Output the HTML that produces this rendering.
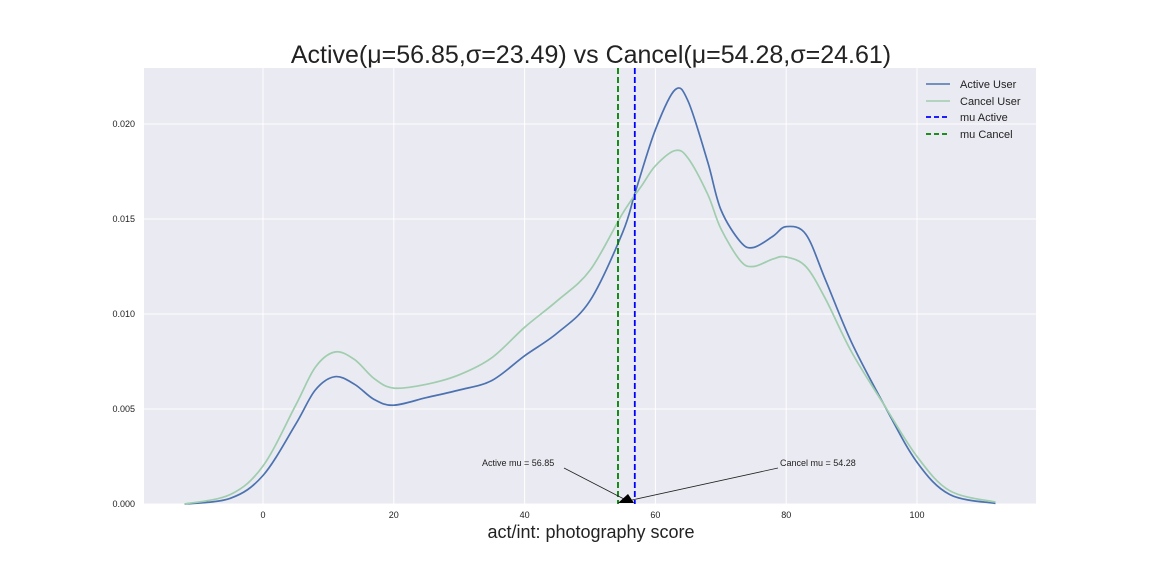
<!DOCTYPE html>
<html><head><meta charset="utf-8"><style>
body{margin:0;background:#fff;}
svg text{font-family:"Liberation Sans",Arial,sans-serif;}
</style></head><body>
<svg id="chart" width="1152" height="576">
<text x="591" y="63" font-size="25" text-anchor="middle" fill="#222">Active(μ=56.85,σ=23.49) vs Cancel(μ=54.28,σ=24.61)</text>
<rect x="144" y="68" width="892" height="436" fill="#eaeaf2"/>
<g id="grid"></g><g id="series"></g>
<text x="591" y="538" font-size="18" text-anchor="middle" fill="#222">act/int: photography score</text>
<g>
<text x="482" y="466" font-size="9" fill="#222">Active mu = 56.85</text>
<text x="780" y="466" font-size="9" fill="#222">Cancel mu = 54.28</text>
<line x1="564" y1="468" x2="624" y2="499" stroke="#222" stroke-width="0.8"/>
<line x1="778" y1="468" x2="632" y2="500" stroke="#222" stroke-width="0.8"/>
<polygon points="618,503 634,503 628,494" fill="#000"/>
</g>
<g>
<line x1="926" y1="84" x2="950" y2="84" stroke="#4c72b0" stroke-width="1.5"/><text x="960" y="88" font-size="11" fill="#222">Active User</text>
<line x1="926" y1="101" x2="950" y2="101" stroke="#9fcdad" stroke-width="1.5"/><text x="960" y="105" font-size="11" fill="#222">Cancel User</text>
<line x1="926" y1="117" x2="950" y2="117" stroke="#0000ff" stroke-width="1.8" stroke-dasharray="5,3"/><text x="960" y="121" font-size="11" fill="#222">mu Active</text>
<line x1="926" y1="134" x2="950" y2="134" stroke="#008000" stroke-width="1.8" stroke-dasharray="5,3"/><text x="960" y="138" font-size="11" fill="#222">mu Cancel</text>
</g>
</svg>
<script>
const xTicks=[0,20,40,60,80,100];
const yTicks=[0,0.005,0.010,0.015,0.020];
const yTickLabels=["0.000","0.005","0.010","0.015","0.020"];
const activeX=[-12,-5,0,5,8,11,14,17,20,25,30,35,40,45,50,55,57,60,63,65,68,70,73,75,78,80,83,86,90,95,100,105,112];
const activeY=[0,0.0003,0.0015,0.0042,0.006,0.0067,0.0063,0.0055,0.0052,0.0056,0.006,0.0065,0.0078,0.009,0.0107,0.0143,0.0165,0.0197,0.0218,0.0212,0.018,0.0155,0.0138,0.0135,0.0141,0.0146,0.0142,0.0118,0.0085,0.0052,0.0022,0.0005,0.00003];
const cancelX=[-12,-5,0,5,8,11,14,17,20,25,30,35,40,45,50,55,58,60,63,65,68,70,73,75,78,80,83,86,90,95,100,105,112];
const cancelY=[0,0.0005,0.002,0.0052,0.0072,0.008,0.0076,0.0066,0.0061,0.0063,0.0068,0.0077,0.0093,0.0107,0.0123,0.0153,0.0168,0.0178,0.0186,0.0182,0.0163,0.0145,0.0128,0.0125,0.0129,0.013,0.0125,0.0108,0.008,0.0052,0.0025,0.0007,0.0001];
const muActive=56.85, muCancel=54.28;
const X=v=>263+v*6.54, Y=v=>504-v*19000;
const NS="http://www.w3.org/2000/svg";
const grid=document.getElementById('grid'), ser=document.getElementById('series');
function mk(tag,attrs,parent){const e=document.createElementNS(NS,tag);for(const k in attrs)e.setAttribute(k,attrs[k]);parent.appendChild(e);return e;}
xTicks.forEach(t=>{
 const l=mk('line',{x1:X(t),x2:X(t),y1:68,y2:504,stroke:'#fff','stroke-width':1},grid);
 
 
 const tx=mk('text',{x:X(t),y:518,'font-size':9,'text-anchor':'middle',fill:'#222'},grid);tx.textContent=t;
 
 
});
yTicks.forEach((t,i)=>{
 const l=mk('line',{x1:144,x2:1036,y1:Y(t),y2:Y(t),stroke:'#fff','stroke-width':1},grid);
 
 
 const tx=mk('text',{x:135,y:Y(t)+3,'font-size':9,'text-anchor':'end',fill:'#222'},grid);tx.textContent=yTickLabels[i];
 
 
});
function path(xs,ys){const p=xs.map((x,i)=>[X(x),Y(ys[i])]);let d='M'+p[0];
 for(let i=0;i<p.length-1;i++){const p0=p[i-1]||p[i],p1=p[i],p2=p[i+1],p3=p[i+2]||p2;
 d+=' C'+(p1[0]+(p2[0]-p0[0])/6)+','+(p1[1]+(p2[1]-p0[1])/6)+' '+(p2[0]-(p3[0]-p1[0])/6)+','+(p2[1]-(p3[1]-p1[1])/6)+' '+p2;}return d;}
const a=mk('path',{d:path(activeX,activeY),fill:'none',stroke:'#4c72b0','stroke-width':1.7},ser);


const c=mk('path',{d:path(cancelX,cancelY),fill:'none',stroke:'#9fcdad','stroke-width':1.7},ser);


const ma=mk('line',{x1:X(muActive),x2:X(muActive),y1:68,y2:504,stroke:'#0000ff','stroke-width':1.8,'stroke-dasharray':'6,3'},ser);


const mc=mk('line',{x1:X(muCancel),x2:X(muCancel),y1:68,y2:504,stroke:'#008000','stroke-width':1.8,'stroke-dasharray':'6,3'},ser);


</script>
</body></html>
